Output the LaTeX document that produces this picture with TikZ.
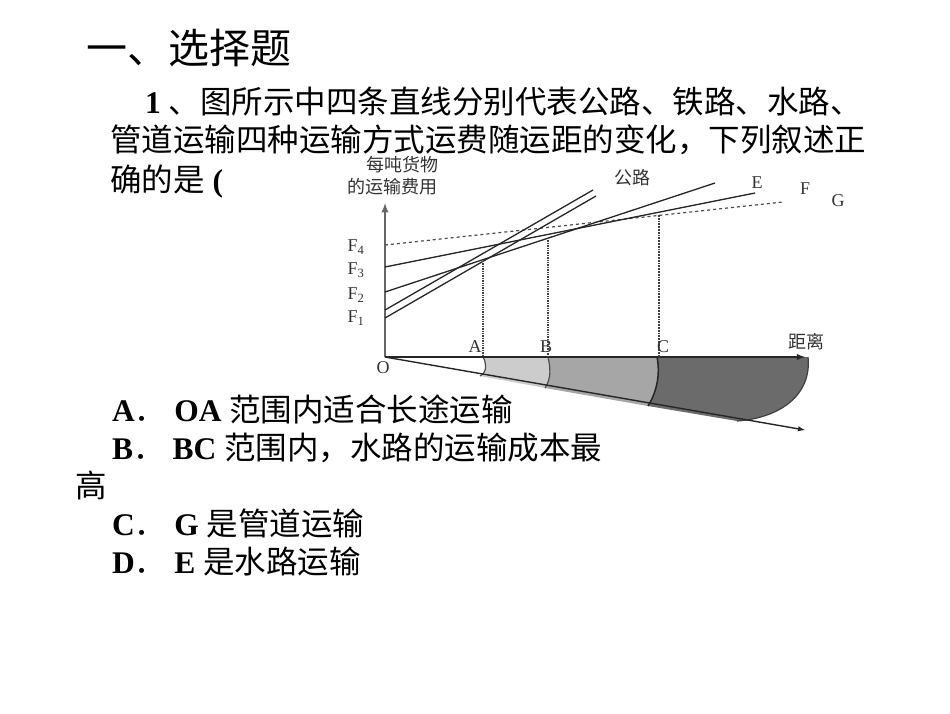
\documentclass[tikz,border=0pt]{standalone}
\usepackage{fontspec}
\setmainfont{Liberation Serif}
\newfontfamily\cjk{Noto Sans CJK SC}
\newcommand\zh[1]{{\cjk\mdseries #1}}
\begin{document}
\begin{tikzpicture}[x=1pt,y=-1pt,
  q/.style={anchor=base west,inner sep=0,font=\fontsize{31.5}{31.5}\selectfont},
  lab/.style={inner sep=0,font=\fontsize{18}{18}\selectfont,text=black!80},
  curve/.style={line width=1.3pt,black!85},
  vdot/.style={densely dotted,line width=1.4pt,black!75}]
\useasboundingbox (0,0) rectangle (950,713);
\fill[white] (0,0) rectangle (950,713);
% title
\node[anchor=base west,inner sep=0,font=\fontsize{41}{41}\selectfont] (title) at (86,63) {\zh{一、选择题}};
\node[q] (l1) at (145,113) {\bfseries 1 \zh{、图所示中四条直线分别代表公路、铁路、水路、}};
\node[q] (l2) at (110,151) {\zh{管道运输四种运输方式运费随运距的变化，下列叙述正}};
\node[q] (l3) at (110,191) {\zh{确的是} \bfseries (};
% shaded bands
\coordinate (O) at (385,357);
\fill[black!58] (657,357) -- (808,357) .. controls (812,395) and (780,418) .. (737,421) -- (648,406) .. controls (658,390) and (660,372) .. (657,357) -- cycle;
\fill[black!35] (548,357) -- (657,357) .. controls (660,372) and (658,390) .. (648,406) -- (545,388) .. controls (552,378) and (550,366) .. (548,357) -- cycle;
\fill[black!20] (483,357) -- (548,357) .. controls (550,366) and (552,378) .. (545,388) -- (480,376) .. controls (488,372) and (486,362) .. (483,357) -- cycle;
\draw[black!70,line width=1.2pt] (483,357) .. controls (486,362) and (488,372) .. (480,376);
\draw[black!70,line width=1.2pt] (548,357) .. controls (550,366) and (552,378) .. (545,388);
\draw[black!85,line width=1.5pt] (657,357) .. controls (660,372) and (658,390) .. (648,406);
\draw[black!75,line width=1.2pt] (808,357) .. controls (812,395) and (780,418) .. (737,421);
\coordinate (lowend) at (805,430);
\draw[black!85,line width=1.4pt,-latex] (O) -- (lowend);
% axes
\coordinate (yt) at (385,203);
\coordinate (xt) at (805,357);
\draw[black!60,line width=2.2pt,-latex] (O) -- (yt);
\draw[black!85,line width=1.8pt,-latex] (O) -- (xt);
% lines
\coordinate (f4) at (385,245); \coordinate (g) at (783,202);
\coordinate (f3) at (385,267); \coordinate (fe) at (755,193);
\coordinate (f2) at (385,292); \coordinate (ee) at (715,183);
\coordinate (f1a) at (385,310); \coordinate (ga) at (593,190);
\coordinate (f1b) at (385,318); \coordinate (gb) at (596,196);
\draw[dashed,black!70,line width=1.2pt] (f4) -- (g);
\draw[curve] (f3) -- (fe);
\draw[curve] (f2) -- (ee);
\draw[curve] (f1a) -- (ga);
\draw[curve] (f1b) -- (gb);
% verticals
\coordinate (ta) at (483,261); \coordinate (ba) at (483,357);
\coordinate (tb) at (548,238); \coordinate (bb) at (548,357);
\coordinate (tc) at (659,215); \coordinate (bc) at (659,357);
\draw[vdot] (ta) -- (ba);
\draw[vdot] (tb) -- (bb);
\draw[vdot,line width=1.8pt] (tc) -- (bc);
% labels
\node[lab] (lF4) at (356,247) {F\textsubscript{4}};
\node[lab] (lF3) at (356,270) {F\textsubscript{3}};
\node[lab] (lF2) at (356,295) {F\textsubscript{2}};
\node[lab] (lF1) at (356,318) {F\textsubscript{1}};
\node[lab] (lA) at (475,347) {A};
\node[lab] (lB) at (546,347) {B};
\node[lab] (lC) at (663,347) {C};
\node[lab] (lO) at (383,368) {O};
\node[lab] (lG) at (838,201) {G};
\node[lab] (lF) at (805,189) {F};
\node[lab] (lE) at (757,183) {E};
\node[lab,font=\cjk\fontsize{18}{18}\selectfont] (lgl) at (632,178) {公路};
\node[lab,font=\cjk\fontsize{18}{18}\selectfont] (ldist) at (806,342) {距离};
\node[lab,font=\cjk\fontsize{18}{18}\selectfont] (ly1) at (402,165) {每吨货物};
\node[lab,font=\cjk\fontsize{18}{18}\selectfont] (ly2) at (392,187) {的运输费用};
% options
\node[q] (oa) at (112,421) {\bfseries A\zh{．}\ OA \zh{范围内适合长途运输}};
\node[q] (ob) at (112,459) {\bfseries B\zh{．}\ BC \zh{范围内，水路的运输成本最}};
\node[q] (ob2) at (75,497) {\zh{高}};
\node[q] (oc) at (112,535) {\bfseries C\zh{．}\ G \zh{是管道运输}};
\node[q] (od) at (112,573) {\bfseries D\zh{．}\ E \zh{是水路运输}};
\end{tikzpicture}
\end{document}
